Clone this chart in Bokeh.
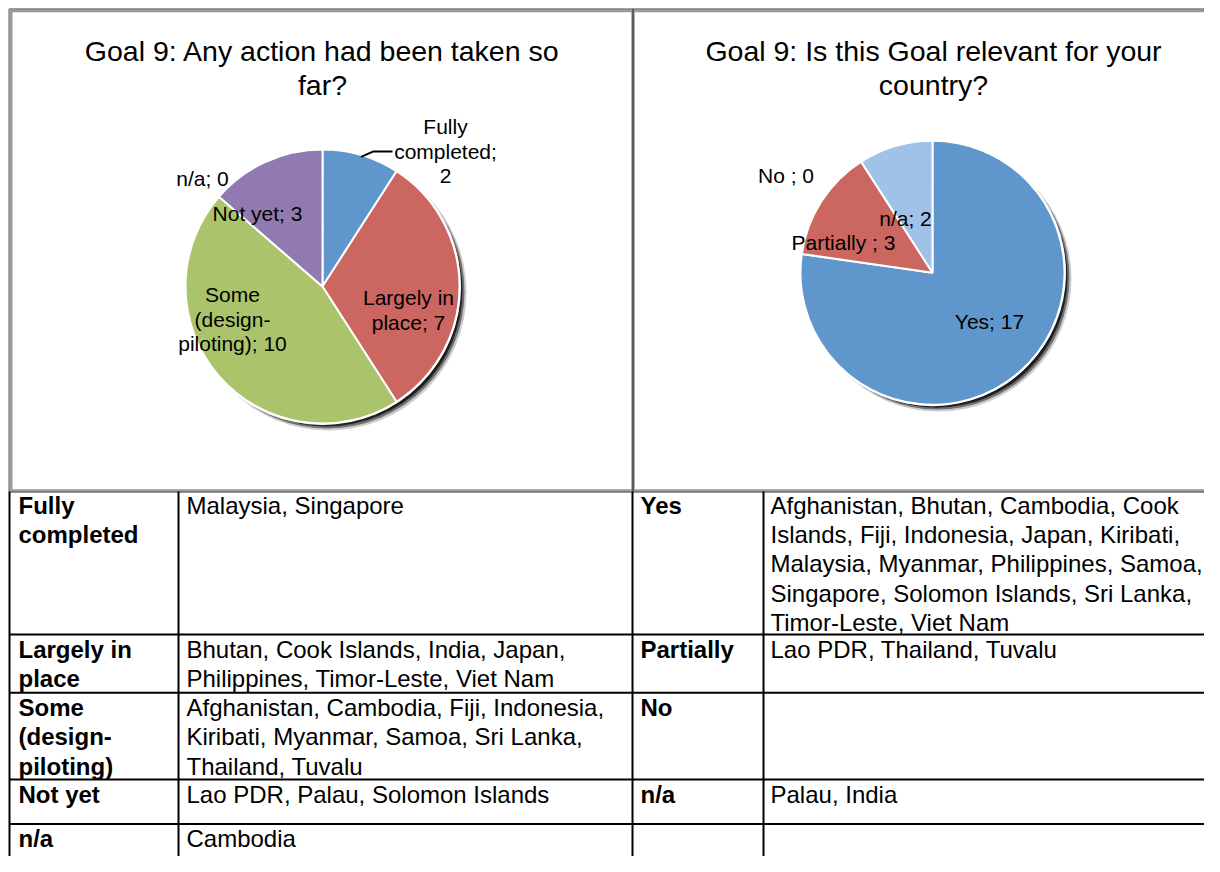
import math
from bokeh.plotting import figure
from bokeh.models import Range1d, ColumnDataSource
from bokeh.core.properties import value
from bokeh.embed import file_html
from bokeh.resources import INLINE

# ---------------- data ----------------
action_title = "Goal 9: Any action had been taken so\nfar?"
action_cats = ["Fully completed", "Largely in place", "Some (design-piloting)", "Not yet", "n/a"]
action_vals = [2, 7, 10, 3, 0]
action_labels = ["Fully\ncompleted;\n2", "Largely in\nplace; 7", "Some\n(design-\npiloting); 10", "Not yet; 3", "n/a; 0"]

relevant_title = "Goal 9: Is this Goal relevant for your\ncountry?"
relevant_cats = ["Yes", "Partially", "No", "n/a"]
relevant_vals = [17, 3, 0, 2]
relevant_labels = ["Yes; 17", "Partially ; 3", "No ; 0", "n/a; 2"]

table_action_cats = ["Fully\ncompleted", "Largely in\nplace", "Some\n(design-\npiloting)", "Not yet", "n/a"]
table_action_countries = [
    "Malaysia, Singapore",
    "Bhutan, Cook Islands, India, Japan,\nPhilippines, Timor-Leste, Viet Nam",
    "Afghanistan, Cambodia, Fiji, Indonesia,\nKiribati, Myanmar, Samoa, Sri Lanka,\nThailand, Tuvalu",
    "Lao PDR, Palau, Solomon Islands",
    "Cambodia",
]
table_relevant_cats = ["Yes", "Partially", "No", "n/a", ""]
table_relevant_countries = [
    "Afghanistan, Bhutan, Cambodia, Cook\nIslands, Fiji, Indonesia, Japan, Kiribati,\nMalaysia, Myanmar, Philippines, Samoa,\nSingapore, Solomon Islands, Sri Lanka,\nTimor-Leste, Viet Nam",
    "Lao PDR, Thailand, Tuvalu",
    "",
    "Palau, India",
    "",
]

# ---------------- styles / layout ----------------
FONT = value("Liberation Sans")
action_colors = ["#5F96CB", "#CC6661", "#ABC46B", "#917AAF", "#917AAF"]
relevant_colors = ["#5F96CB", "#CC6661", "#7FA6D6", "#A0C1E8"]

W, H = 1204, 856
p = figure(width=W, height=H, output_backend="svg", toolbar_location=None,
           x_range=Range1d(0, W), y_range=Range1d(868, 0),
           x_axis_location=None, y_axis_location=None, min_border=0)
p.grid.visible = False
p.outline_line_color = None
p.background_fill_color = "white"
p.border_fill_color = "white"

# chart boxes
p.quad(left=[10.5, 632.5], right=[632.5, 1225], top=[10.5, 10.5], bottom=[497, 497],
       fill_color=None, line_color="#9a9a9a", line_width=3)
p.quad(left=[8.5, 632.5], right=[632.5, 1230], top=[8.5, 8.5], bottom=[498.5, 498.5],
       fill_color=None, line_color="#3a3a3a", line_width=1, line_alpha=0.8)


def draw_pie(cx, cy, r, vals, colors, labels, offsets, title, tx, ty):
    total = float(sum(vals))
    cum = 0.0
    st, en, col, mids = [], [], [], []
    for v, c in zip(vals, colors):
        a0 = math.pi / 2 - 2 * math.pi * cum / total
        cum += v
        a1 = math.pi / 2 - 2 * math.pi * cum / total
        mids.append((a0 + a1) / 2)
        if v > 0:
            st.append(a0); en.append(a1); col.append(c)
    # soft shadow to the lower right
    for (dx, dy, al, rr) in [(6, 6, 0.2, r + 1), (5, 5, 0.45, r), (4, 4, 0.7, r - 1), (3, 3, 0.85, r - 2)]:
        p.circle(x=[cx + dx], y=[cy + dy], radius=rr, radius_units="screen",
                 fill_color="black", fill_alpha=al, line_color=None)
    p.circle(x=[cx], y=[cy], radius=r + 1.5, radius_units="screen",
             fill_color="white", line_color=None)
    src = ColumnDataSource(dict(start=st, end=en, color=col))
    p.wedge(x=cx, y=cy, radius=r, radius_units="screen", start_angle="start",
            end_angle="end", direction="clock", fill_color="color",
            line_color="white", line_width=2, source=src)
    lx = [cx + o[0] for o in offsets]
    ly = [cy + o[1] for o in offsets]
    p.text(x=lx, y=ly, text=labels, text_align="center", text_baseline="middle",
           text_font=FONT, text_font_size="21px", text_line_height=1.07, text_color="black")
    p.text(x=[tx], y=[ty], text=[title], text_align="center", text_baseline="middle",
           text_font=FONT, text_font_size="28.5px", text_line_height=1.06, text_color="black")
    return mids, lx, ly


# left pie
mids, lx, ly = draw_pie(322, 290, 137, action_vals, action_colors, action_labels,
                        [(123, -137), (86, 24), (-90, 33), (-65, -74), (-120, -109)],
                        action_title, 322, 68)
# leader line for the first slice
m = mids[0]
sx, sy = 322 + 137 * math.cos(m), 290 - 137 * math.sin(m)
p.line(x=[sx, lx[0] - 72, lx[0] - 53], y=[sy, ly[0], ly[0]], line_color="black", line_width=2)

# right pie
draw_pie(932, 276, 132, relevant_vals, relevant_colors, relevant_labels,
         [(57, 50), (-89, -31), (-146.5, -99), (-27, -55)],
         relevant_title, 933, 68)

# ---------------- table ----------------
line_h = 29
nlines = [max(len(a.split("\n")), len(b.split("\n")), len(c.split("\n")), len(d.split("\n")))
          for a, b, c, d in zip(table_action_cats, table_action_countries,
                                table_relevant_cats, table_relevant_countries)]
heights = [max(n * line_h + 1, 45) for n in nlines]
tops = [497]
for h in heights:
    tops.append(tops[-1] + h)

col_lines = [9, 178, 632, 763]
text_x = [18, 186, 640, 770]
p.segment(x0=col_lines, x1=col_lines, y0=[498] * 4, y1=[900] * 4, line_color="black", line_width=2)
p.segment(x0=[9] * (len(tops) - 1), x1=[1230] * (len(tops) - 1), y0=tops[1:], y1=tops[1:],
          line_color="black", line_width=2)

cols = [table_action_cats, table_action_countries, table_relevant_cats, table_relevant_countries]
for ci, colvals in enumerate(cols):
    ys = [t + 1 for t in tops[:-1]]
    xs = [text_x[ci]] * len(colvals)
    p.text(x=xs, y=ys, text=colvals, text_align="left", text_baseline="top",
           text_font=FONT, text_font_size="24px", text_line_height=1.09,
           text_font_style="bold" if ci in (0, 2) else "normal", text_color="black")

open("out.html", "w").write(file_html(p, INLINE))
